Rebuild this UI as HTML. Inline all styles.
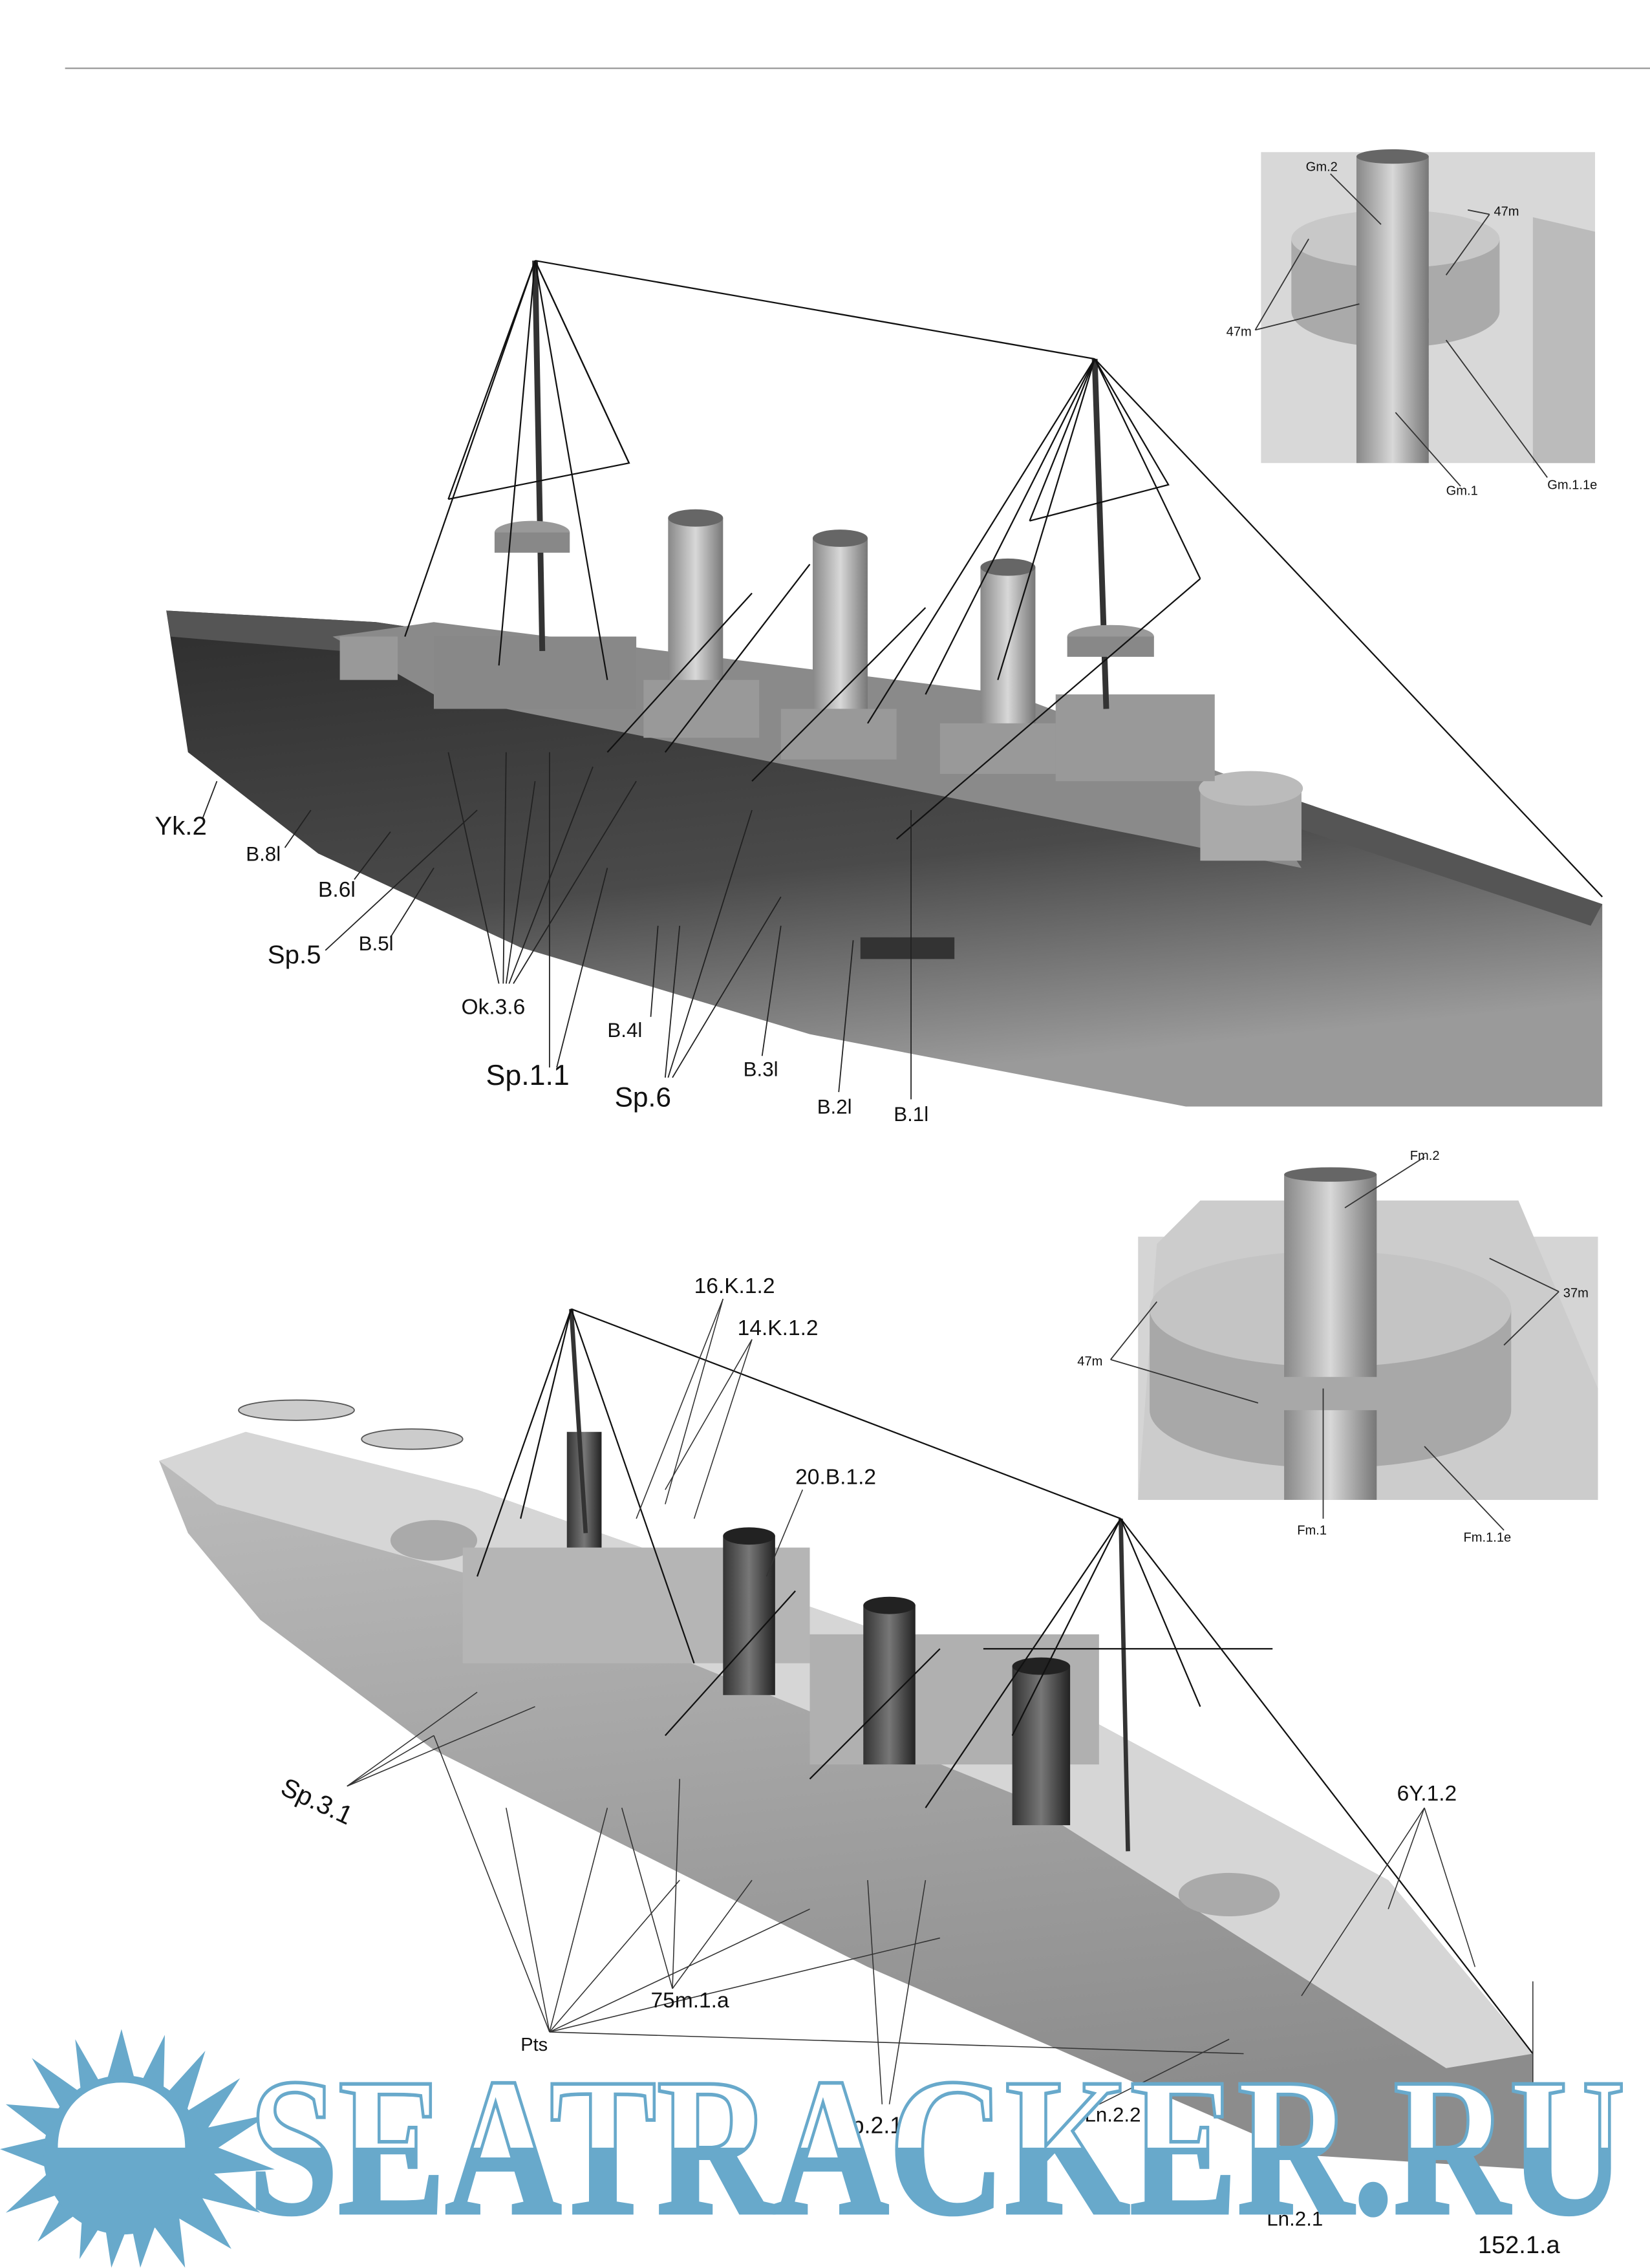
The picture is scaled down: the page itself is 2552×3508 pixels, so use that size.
<!DOCTYPE html>
<html><head><meta charset="utf-8">
<style>
html,body{margin:0;padding:0;background:#fff;}
svg{display:block;}
text{font-family:"Liberation Sans",sans-serif;fill:#111;}
</style></head>
<body>
<svg width="2552" height="3508" viewBox="0 0 1141 1568" xmlns="http://www.w3.org/2000/svg">
<defs>
<linearGradient id="hull1" x1="0" y1="0" x2="0.3" y2="1">
<stop offset="0" stop-color="#2e2e2e"/><stop offset="0.6" stop-color="#4a4a4a"/><stop offset="1" stop-color="#9a9a9a"/>
</linearGradient>
<linearGradient id="hull2" x1="0" y1="0" x2="0.2" y2="1">
<stop offset="0" stop-color="#bdbdbd"/><stop offset="1" stop-color="#8c8c8c"/>
</linearGradient>
<linearGradient id="cyl" x1="0" x2="1">
<stop offset="0" stop-color="#888"/><stop offset="0.5" stop-color="#d8d8d8"/><stop offset="1" stop-color="#777"/>
</linearGradient>
<linearGradient id="cyl2" x1="0" x2="1">
<stop offset="0" stop-color="#333"/><stop offset="0.5" stop-color="#777"/><stop offset="1" stop-color="#222"/>
</linearGradient>
<clipPath id="lower"><rect x="0" y="1485" width="1141" height="83"/></clipPath>
</defs>
<rect width="1141" height="1568" fill="#fff"/>
<line x1="45" y1="47" x2="1141" y2="47" stroke="#999" stroke-width="1"/>

<!-- TOP SHIP -->
<polygon points="115,422 260,430 740,500 1108,625 1108,765 820,765 560,715 360,655 220,590 130,520" fill="url(#hull1)"/>
<polygon points="115,422 260,430 740,500 1108,625 1100,640 740,520 260,452 118,440" fill="#555"/>
<polygon points="230,440 300,430 700,480 860,540 900,600 700,560 300,480" fill="#8a8a8a"/>
<rect x="235" y="440" width="40" height="30" fill="#999"/>
<rect x="830" y="545" width="70" height="50" fill="#aaa"/>
<ellipse cx="865" cy="545" rx="36" ry="12" fill="#bbb"/>
<rect x="730" y="480" width="110" height="60" fill="#999"/>
<rect x="300" y="440" width="140" height="50" fill="#888"/>
<rect x="462" y="358" width="38" height="115" fill="url(#cyl)"/>
<ellipse cx="481" cy="358" rx="19" ry="6" fill="#666"/>
<rect x="562" y="372" width="38" height="118" fill="url(#cyl)"/>
<ellipse cx="581" cy="372" rx="19" ry="6" fill="#666"/>
<rect x="678" y="392" width="38" height="110" fill="url(#cyl)"/>
<ellipse cx="697" cy="392" rx="19" ry="6" fill="#666"/>
<rect x="445" y="470" width="80" height="40" fill="#999"/>
<rect x="540" y="490" width="80" height="35" fill="#999"/>
<rect x="650" y="500" width="80" height="35" fill="#999"/>
<rect x="595" y="648" width="65" height="15" fill="#333"/>
<line x1="370" y1="180" x2="375" y2="450" stroke="#333" stroke-width="4"/>
<ellipse cx="368" cy="368" rx="26" ry="8" fill="#999"/>
<rect x="342" y="368" width="52" height="14" fill="#888"/>
<line x1="757" y1="248" x2="765" y2="490" stroke="#333" stroke-width="4"/>
<ellipse cx="768" cy="440" rx="30" ry="8" fill="#999"/>
<rect x="738" y="440" width="60" height="14" fill="#888"/>
<g stroke="#111" stroke-width="1" fill="none">
<line x1="370" y1="180" x2="757" y2="248"/>
<line x1="757" y1="248" x2="1108" y2="620"/>
<line x1="370" y1="180" x2="280" y2="440"/>
<line x1="370" y1="180" x2="310" y2="345"/>
<line x1="370" y1="180" x2="435" y2="320"/>
<polyline points="310,345 435,320 370,180"/>
<line x1="370" y1="180" x2="345" y2="460"/>
<line x1="370" y1="180" x2="420" y2="470"/>
<line x1="757" y1="248" x2="712" y2="360"/>
<polyline points="712,360 808,335 757,248"/>
<line x1="757" y1="248" x2="600" y2="500"/>
<line x1="757" y1="248" x2="640" y2="480"/>
<line x1="757" y1="248" x2="830" y2="400"/>
<line x1="757" y1="248" x2="690" y2="470"/>
<line x1="830" y1="400" x2="620" y2="580"/>
<line x1="560" y1="390" x2="460" y2="520"/>
<line x1="520" y1="410" x2="420" y2="520"/>
<line x1="640" y1="420" x2="520" y2="540"/>
</g>
<g stroke="#222" stroke-width="0.8">
<line x1="140" y1="566" x2="150" y2="540"/>
<line x1="197" y1="586" x2="215" y2="560"/>
<line x1="245" y1="608" x2="270" y2="575"/>
<line x1="225" y1="657" x2="330" y2="560"/>
<line x1="270" y1="648" x2="300" y2="600"/>
<line x1="345" y1="680" x2="310" y2="520"/>
<line x1="348" y1="680" x2="350" y2="520"/>
<line x1="350" y1="680" x2="370" y2="540"/>
<line x1="352" y1="680" x2="410" y2="530"/>
<line x1="355" y1="680" x2="440" y2="540"/>
<line x1="380" y1="738" x2="380" y2="520"/>
<line x1="385" y1="738" x2="420" y2="600"/>
<line x1="450" y1="703" x2="455" y2="640"/>
<line x1="460" y1="745" x2="470" y2="640"/>
<line x1="462" y1="745" x2="520" y2="560"/>
<line x1="465" y1="745" x2="540" y2="620"/>
<line x1="527" y1="730" x2="540" y2="640"/>
<line x1="580" y1="755" x2="590" y2="650"/>
<line x1="630" y1="760" x2="630" y2="560"/>
</g>
<text x="107" y="577" font-size="18">Yk.2</text>
<text x="170" y="595" font-size="14">B.8l</text>
<text x="220" y="620" font-size="15">B.6l</text>
<text x="185" y="666" font-size="18">Sp.5</text>
<text x="248" y="657" font-size="14">B.5l</text>
<text x="319" y="701" font-size="15">Ok.3.6</text>
<text x="336" y="750" font-size="20">Sp.1.1</text>
<text x="420" y="717" font-size="14">B.4l</text>
<text x="425" y="765" font-size="19">Sp.6</text>
<text x="514" y="744" font-size="14">B.3l</text>
<text x="565" y="770" font-size="14">B.2l</text>
<text x="618" y="775" font-size="14">B.1l</text>

<!-- TOP INSET -->
<rect x="872" y="105" width="231" height="215" fill="#d8d8d8"/>
<polygon points="1060,150 1103,160 1103,320 1060,320" fill="#bbb"/>
<ellipse cx="965" cy="165" rx="72" ry="20" fill="#c8c8c8"/>
<path d="M893,165 A72,20 0 0 0 1037,165 L1037,215 A72,25 0 0 1 893,215 Z" fill="#aaa"/>
<rect x="938" y="220" width="50" height="100" fill="url(#cyl)"/>
<rect x="938" y="108" width="50" height="115" fill="url(#cyl)"/>
<ellipse cx="963" cy="108" rx="25" ry="5" fill="#666"/>
<g stroke="#333" stroke-width="0.8">
<line x1="920" y1="120" x2="955" y2="155"/>
<line x1="1030" y1="148" x2="1015" y2="145"/>
<line x1="1030" y1="148" x2="1000" y2="190"/>
<line x1="868" y1="228" x2="905" y2="165"/>
<line x1="868" y1="228" x2="940" y2="210"/>
<line x1="1010" y1="336" x2="965" y2="285"/>
<line x1="1070" y1="330" x2="1000" y2="235"/>
</g>
<text x="903" y="118" font-size="9">Gm.2</text>
<text x="1033" y="149" font-size="9">47m</text>
<text x="848" y="232" font-size="9">47m</text>
<text x="1000" y="342" font-size="9">Gm.1</text>
<text x="1070" y="338" font-size="9">Gm.1.1e</text>

<!-- BOTTOM INSET -->
<rect x="787" y="855" width="318" height="182" fill="#d5d5d5"/>
<polygon points="800,860 830,830 1050,830 1105,960 1105,1037 787,1037" fill="#ccc"/>
<ellipse cx="920" cy="905" rx="125" ry="40" fill="#c4c4c4"/>
<path d="M795,905 A125,40 0 0 0 1045,905 L1045,975 A125,40 0 0 1 795,975 Z" fill="#a8a8a8"/>
<rect x="888" y="812" width="64" height="140" fill="url(#cyl)"/>
<rect x="888" y="975" width="64" height="62" fill="url(#cyl)"/>
<ellipse cx="920" cy="812" rx="32" ry="5" fill="#666"/>
<g stroke="#333" stroke-width="0.8">
<line x1="985" y1="800" x2="930" y2="835"/>
<line x1="1078" y1="893" x2="1030" y2="870"/>
<line x1="1078" y1="893" x2="1040" y2="930"/>
<line x1="768" y1="940" x2="870" y2="970"/>
<line x1="768" y1="940" x2="800" y2="900"/>
<line x1="915" y1="1050" x2="915" y2="960"/>
<line x1="1040" y1="1058" x2="985" y2="1000"/>
</g>
<text x="975" y="802" font-size="9">Fm.2</text>
<text x="1081" y="897" font-size="9">37m</text>
<text x="745" y="944" font-size="9">47m</text>
<text x="897" y="1061" font-size="9">Fm.1</text>
<text x="1012" y="1066" font-size="9">Fm.1.1e</text>

<!-- BOTTOM SHIP -->
<polygon points="110,1010 170,990 330,1030 700,1160 960,1300 1060,1420 1060,1500 900,1490 600,1360 300,1210 180,1120 130,1060" fill="url(#hull2)"/>
<polygon points="110,1010 170,990 330,1030 700,1160 960,1300 1060,1420 1000,1430 700,1240 330,1090 150,1040" fill="#d6d6d6"/>
<ellipse cx="205" cy="975" rx="40" ry="7" fill="#ccc" stroke="#555" stroke-width="0.8"/>
<ellipse cx="285" cy="995" rx="35" ry="7" fill="#ccc" stroke="#555" stroke-width="0.8"/>
<ellipse cx="300" cy="1065" rx="30" ry="14" fill="#aaa"/>
<ellipse cx="850" cy="1310" rx="35" ry="15" fill="#aaa"/>
<rect x="320" y="1070" width="240" height="80" fill="#b5b5b5"/>
<rect x="560" y="1130" width="200" height="90" fill="#b0b0b0"/>
<rect x="500" y="1062" width="36" height="110" fill="url(#cyl2)"/>
<ellipse cx="518" cy="1062" rx="18" ry="6" fill="#222"/>
<rect x="597" y="1110" width="36" height="110" fill="url(#cyl2)"/>
<ellipse cx="615" cy="1110" rx="18" ry="6" fill="#222"/>
<rect x="700" y="1152" width="40" height="110" fill="url(#cyl2)"/>
<ellipse cx="720" cy="1152" rx="20" ry="6" fill="#222"/>
<rect x="392" y="990" width="24" height="80" fill="url(#cyl2)"/>
<line x1="395" y1="905" x2="405" y2="1060" stroke="#333" stroke-width="3"/>
<line x1="775" y1="1050" x2="780" y2="1280" stroke="#333" stroke-width="3"/>
<g stroke="#111" stroke-width="1" fill="none">
<line x1="395" y1="905" x2="775" y2="1050"/>
<line x1="775" y1="1050" x2="1060" y2="1420"/>
<line x1="395" y1="905" x2="330" y2="1090"/>
<line x1="395" y1="905" x2="480" y2="1150"/>
<line x1="395" y1="905" x2="360" y2="1050"/>
<line x1="775" y1="1050" x2="700" y2="1200"/>
<line x1="775" y1="1050" x2="830" y2="1180"/>
<line x1="680" y1="1140" x2="880" y2="1140"/>
<line x1="775" y1="1050" x2="640" y2="1250"/>
<line x1="550" y1="1100" x2="460" y2="1200"/>
<line x1="650" y1="1140" x2="560" y2="1230"/>
</g>
<g stroke="#333" stroke-width="0.7">
<line x1="500" y1="898" x2="460" y2="1040"/>
<line x1="500" y1="898" x2="440" y2="1050"/>
<line x1="520" y1="926" x2="480" y2="1050"/>
<line x1="520" y1="926" x2="460" y2="1030"/>
<line x1="555" y1="1030" x2="530" y2="1090"/>
<line x1="240" y1="1235" x2="330" y2="1170"/>
<line x1="240" y1="1235" x2="300" y2="1200"/>
<line x1="240" y1="1235" x2="370" y2="1180"/>
<line x1="380" y1="1405" x2="300" y2="1200"/>
<line x1="380" y1="1405" x2="350" y2="1250"/>
<line x1="380" y1="1405" x2="420" y2="1250"/>
<line x1="380" y1="1405" x2="470" y2="1300"/>
<line x1="380" y1="1405" x2="560" y2="1320"/>
<line x1="380" y1="1405" x2="650" y2="1340"/>
<line x1="380" y1="1405" x2="860" y2="1420"/>
<line x1="465" y1="1375" x2="430" y2="1250"/>
<line x1="465" y1="1375" x2="470" y2="1230"/>
<line x1="465" y1="1375" x2="520" y2="1300"/>
<line x1="610" y1="1455" x2="600" y2="1300"/>
<line x1="615" y1="1455" x2="640" y2="1300"/>
<line x1="760" y1="1455" x2="850" y2="1410"/>
<line x1="985" y1="1250" x2="900" y2="1380"/>
<line x1="985" y1="1250" x2="960" y2="1320"/>
<line x1="985" y1="1250" x2="1020" y2="1360"/>
<line x1="1060" y1="1480" x2="1060" y2="1370"/>
</g>
<text x="480" y="894" font-size="15">16.K.1.2</text>
<text x="510" y="923" font-size="15">14.K.1.2</text>
<text x="550" y="1026" font-size="15">20.B.1.2</text>
<text x="193" y="1240" font-size="18" transform="rotate(25 193 1240)">Sp.3.1</text>
<text x="966" y="1245" font-size="15">6Y.1.2</text>
<text x="450" y="1388" font-size="15">75m.1.a</text>
<text x="360" y="1418" font-size="13">Pts</text>
<text x="578" y="1475" font-size="16">Sp.2.1</text>
<text x="750" y="1467" font-size="14">Ln.2.2</text>
<text x="876" y="1539" font-size="14">Ln.2.1</text>
<text x="1022" y="1558" font-size="17">152.1.a</text>

<!-- WATERMARK -->
<polygon fill="#68a9cb" points="84,1403 95,1445 114,1407 113,1450 142,1418 129,1460 166,1437 144,1471 186,1462 151,1485 190,1500 148,1503 180,1530 140,1520 160,1555 124,1534 128,1568 107,1540 97,1568 90,1535 77,1568 72,1535 55,1562 57,1528 26,1550 44,1516 4,1530 36,1500 0,1486 34,1478 4,1455 42,1458 22,1423 56,1447 52,1410 72,1445"/>
<circle cx="85" cy="1490" r="55" fill="#68a9cb"/>
<path d="M40,1485 C40,1425 128,1425 128,1485 Z" fill="#fff"/>
<text x="172" y="1530" font-size="136" font-weight="bold" textLength="952" lengthAdjust="spacingAndGlyphs" style="font-family:'Liberation Serif',serif;fill:#fff;stroke:#68a9cb;stroke-width:2.5">SEATRACKER.RU</text>
<text x="172" y="1530" font-size="136" font-weight="bold" textLength="952" lengthAdjust="spacingAndGlyphs" clip-path="url(#lower)" style="font-family:'Liberation Serif',serif;fill:#68a9cb">SEATRACKER.RU</text>
</svg>
</body></html>
